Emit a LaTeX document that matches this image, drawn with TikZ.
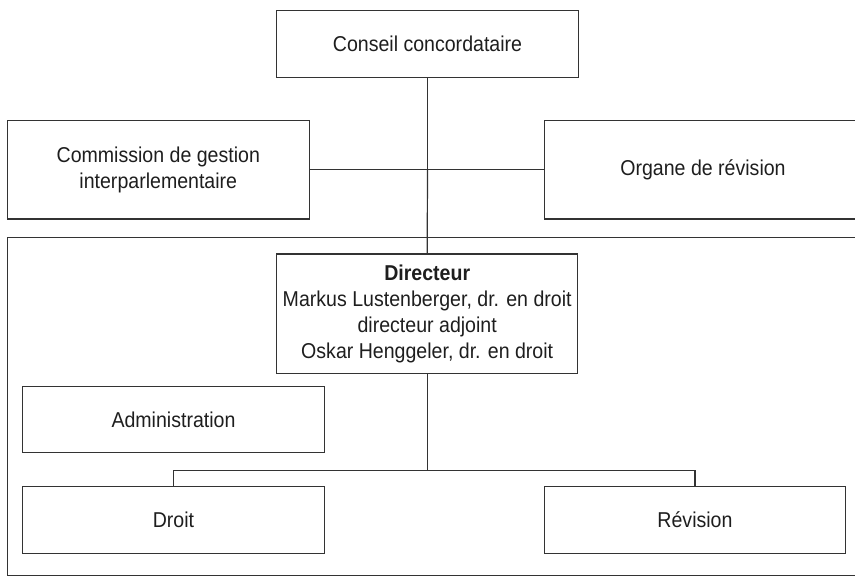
\documentclass[tikz,border=0pt]{standalone}
\usepackage{fontspec}
\setmainfont[FakeStretch=0.91]{Liberation Sans}
\definecolor{linec}{HTML}{333333}
\definecolor{textc}{HTML}{1E1E1E}
\begin{document}
\begin{tikzpicture}[x=1pt,y=-1pt,
  box/.style={draw=linec, line width=1.2pt, inner sep=0pt, align=center,
    minimum width=301.6pt, minimum height=66.5pt, text=textc,
    font=\fontsize{21.5pt}{26pt}\selectfont},
  conn/.style={draw=linec, line width=1.2pt}]
\useasboundingbox (0,0) rectangle (855,577);
\clip (0,0) rectangle (855,577);
% outer frame
\draw[conn] (7.3,237.3) rectangle (880,575.3);
\node[box] (conseil) at (427.5,44) {Conseil concordataire};
\node[box, minimum height=98.3pt, minimum width=302pt] (commission) at (158.3,169.9) {Commission de gestion\\interparlementaire};
\node[box, minimum height=98.3pt, minimum width=317.4pt] (organe) at (703,169.9) {Organe de révision};
\node[box, minimum height=119.7pt, minimum width=301pt] (directeur) at (427.2,313.9) {\textbf{Directeur}\\Markus Lustenberger, dr. en droit\\directeur adjoint\\Oskar Henggeler, dr. en droit};
\node[box] (admin) at (173.5,419.5) {Administration};
\node[box] (droit) at (173.5,519.9) {Droit};
\node[box] (revision) at (695,519.9) {Révision};
\coordinate (hub) at (conseil.south |- commission.east);
\coordinate (bus) at (directeur.south |- 0,470.3);
\draw[conn] (conseil.south) -- (hub);
\draw[conn] (hub) -- (directeur.north);
\draw[conn] (commission.east) -- (hub) -- (organe.west);
\draw[conn] (directeur.south) -- (bus);
\draw[conn] (droit.north) |- (bus);
\draw[conn] (revision.north) |- (bus);
\end{tikzpicture}
\end{document}
